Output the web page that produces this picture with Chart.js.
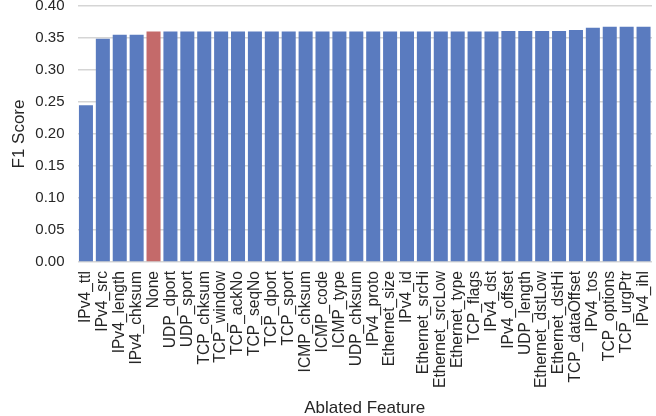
<!DOCTYPE html>
<html>
<head>
<meta charset="utf-8">
<script src="https://cdn.jsdelivr.net/npm/chart.js@4"></script>
<style>
  html, body { margin: 0; padding: 0; background: #fff; }
  #wrap { width: 656px; height: 416px; }
</style>
</head>
<body>
<div id="wrap"><canvas id="chart" width="656" height="416"></canvas></div>
<script>
// ablated features, in the order of the plot
const features = [
  "IPv4_ttl", "IPv4_src", "IPv4_length", "IPv4_chksum", "None",
  "UDP_dport", "UDP_sport", "TCP_chksum", "TCP_window", "TCP_ackNo",
  "TCP_seqNo", "TCP_dport", "TCP_sport", "ICMP_chksum", "ICMP_code",
  "ICMP_type", "UDP_chksum", "IPv4_proto", "Ethernet_size", "IPv4_id",
  "Ethernet_srcHi", "Ethernet_srcLow", "Ethernet_type", "TCP_flags", "IPv4_dst",
  "IPv4_offset", "UDP_length", "Ethernet_dstLow", "Ethernet_dstHi", "TCP_dataOffset",
  "IPv4_tos", "TCP_options", "TCP_urgPtr", "IPv4_ihl"
];

const f1Scores = [
  0.245, 0.349, 0.355, 0.355, 0.360,
  0.360, 0.360, 0.360, 0.360, 0.360,
  0.360, 0.360, 0.360, 0.360, 0.360,
  0.360, 0.360, 0.360, 0.360, 0.360,
  0.360, 0.360, 0.360, 0.360, 0.360,
  0.361, 0.361, 0.361, 0.361, 0.3625,
  0.366, 0.3675, 0.3675, 0.3675
];

const yTicks = [0, 0.05, 0.10, 0.15, 0.20, 0.25, 0.30, 0.35, 0.40];

const blue = "#5a7bbf";
const red = "#c46a6a";
const barColors = features.map(f => f === "None" ? red : blue);

const font = "'Liberation Sans', Arial, sans-serif";

new Chart(document.getElementById("chart"), {
  type: "bar",
  data: {
    labels: features,
    datasets: [{
      data: f1Scores,
      backgroundColor: barColors,
      borderWidth: 0,
      barPercentage: 0.83,
      categoryPercentage: 1.0
    }]
  },
  options: {
    responsive: false,
    animation: false,
    layout: { padding: { top: 6, right: 4, left: 9, bottom: 0 } },
    plugins: { legend: { display: false }, tooltip: { enabled: false } },
    scales: {
      x: {
        grid: { display: false, drawTicks: false },
        border: { display: false },
        afterFit: axis => {
          axis.height = 154;
          axis.paddingLeft = 0;
          axis.paddingRight = 0;
        },
        ticks: {
          autoSkip: false,
          maxRotation: 90,
          minRotation: 90,
          padding: 9,
          color: "#262626",
          font: { family: font, size: 15.6 }
        },
        title: {
          display: true,
          text: "Ablated Feature",
          color: "#262626",
          font: { family: font, size: 17 },
          padding: { top: 0, bottom: -2.5 }
        }
      },
      y: {
        min: 0,
        max: 0.4,
        afterBuildTicks: axis => { axis.ticks = yTicks.map(v => ({ value: v })); },
        afterFit: axis => {
          axis.width = 68.5;
          axis.paddingTop = 0;
          axis.paddingBottom = 0;
        },
        grid: { color: "#d5d5d5", lineWidth: 1.5, drawTicks: false },
        border: { display: false },
        ticks: {
          padding: 13,
          color: "#262626",
          font: { family: font, size: 15 },
          callback: v => v.toFixed(2)
        },
        title: {
          display: true,
          text: "F1 Score",
          color: "#262626",
          font: { family: font, size: 17 },
          padding: { top: 0, bottom: 0 }
        }
      }
    }
  }
});
</script>
</body>
</html>
